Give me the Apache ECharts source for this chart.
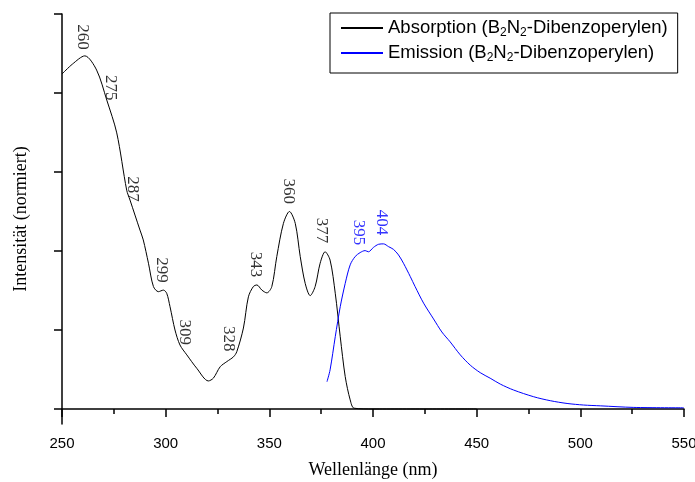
<!DOCTYPE html>
<html>
<head>
<meta charset="utf-8">
<script src="https://cdn.jsdelivr.net/npm/echarts@6/dist/echarts.min.js"></script>
<style>html,body{margin:0;padding:0;background:#fff;}#c{width:695px;height:482px;}</style>
</head>
<body>
<div id="c"></div>
<script>
// Absorption spectrum
const absX = [250, 255, 261, 266.7, 271.6, 276.4, 281.2, 282.8, 287.6, 289.2, 291.7, 294.1, 296.5, 298.9, 300.5, 302.1, 304.5, 306.9, 310.2, 315.0, 320.6, 323.0, 326.3, 329.5, 332.7, 334.3, 337.5, 339.9, 342.3, 344.0, 346.4, 348.8, 351.2, 353.6, 356.8, 359.7, 362.5, 364.9, 367.3, 369.7, 372.1, 374.5, 376.9, 379.3, 381.8, 384.2, 386.6, 389.0, 390.9, 400, 450];
const absY = [0.848, 0.873, 0.894, 0.858, 0.782, 0.699, 0.554, 0.529, 0.453, 0.428, 0.369, 0.310, 0.297, 0.301, 0.293, 0.259, 0.200, 0.162, 0.137, 0.103, 0.071, 0.078, 0.107, 0.120, 0.132, 0.145, 0.205, 0.284, 0.310, 0.314, 0.301, 0.294, 0.310, 0.386, 0.470, 0.500, 0.470, 0.386, 0.318, 0.287, 0.310, 0.369, 0.398, 0.377, 0.293, 0.183, 0.082, 0.023, 0.002, 0, 0];
// Emission spectrum
const emiX = [377.8, 379.3, 381.8, 384.2, 386.6, 389.0, 391.4, 393.8, 396.2, 397.8, 400.2, 402.7, 405.1, 407.5, 409.9, 412.3, 414.7, 418.0, 420.3, 424.4, 429.2, 433.2, 437.2, 442.1, 446.9, 451.7, 456.5, 461.4, 467.8, 477.5, 485.5, 493.6, 501.6, 509.6, 525.8, 549.9];
const emiY = [0.069, 0.099, 0.183, 0.259, 0.318, 0.365, 0.386, 0.396, 0.401, 0.398, 0.409, 0.417, 0.418, 0.411, 0.404, 0.390, 0.369, 0.335, 0.310, 0.268, 0.228, 0.195, 0.170, 0.137, 0.111, 0.092, 0.078, 0.063, 0.048, 0.031, 0.021, 0.014, 0.010, 0.008, 0.004, 0.003];
// Peak annotations: text, label x, label y
const absPeakText = ['260', '275', '287', '299', '309', '328', '343', '360', '377'];
const absPeakX = [260.1, 273.2, 284.0, 298.0, 309.1, 330.4, 343.1, 359.1, 375.2];
const absPeakY = [0.942, 0.813, 0.557, 0.352, 0.194, 0.178, 0.366, 0.551, 0.452];
const emiPeakText = ['395', '404'];
const emiPeakX = [392.9, 404.0];
const emiPeakY = [0.447, 0.472];
const xTicks = [250, 300, 350, 400, 450, 500, 550];
const yTicks = [0, 0.2, 0.4, 0.6, 0.8, 1.0];
const seriesNames = ['Absorption (B2N2-Dibenzoperylen)', 'Emission (B2N2-Dibenzoperylen)'];

const zip = (a, b) => a.map((v, i) => [v, b[i]]);
const zip3 = (a, b, t) => a.map((v, i) => [v, b[i], t[i]]);

const chart = echarts.init(document.getElementById('c'));
const serif = 'Liberation Serif, Times New Roman, serif';
const sans = 'Liberation Sans, Arial, sans-serif';
const labelSeries = (data, color) => ({
  type: 'scatter', data: data, symbolSize: 0, silent: true, z: 5,
  label: {
    show: true, position: 'inside', rotate: -90,
    formatter: p => p.data[2], color: color,
    fontFamily: serif, fontSize: 17
  }
});
chart.setOption({
  animation: false,
  backgroundColor: '#fff',
  grid: { left: 62, top: 14, right: 11, bottom: 58, containLabel: false, outerBoundsMode: 'none' },
  legend: {
    orient: 'vertical', left: 330, top: 13,
    padding: [4, 10, 9, 10], itemGap: 3,
    itemWidth: 42, itemHeight: 14,
    borderColor: '#000', borderWidth: 1, borderRadius: 0,
    itemStyle: { opacity: 0 },
    data: seriesNames,
    formatter: n => n.replace(/([BN])2/g, '$1{s|2}'),
    textStyle: {
      fontFamily: sans, fontSize: 18.5, color: '#000', lineHeight: 22,
      rich: { s: { fontSize: 12, fontFamily: sans, color: '#000', verticalAlign: 'bottom', lineHeight: 12 } }
    }
  },
  xAxis: {
    type: 'value', min: 250, max: 550, interval: 50,
    axisLine: { lineStyle: { color: '#000', width: 1.5 } },
    axisTick: { show: true, length: 8, lineStyle: { color: '#000', width: 1.5 } },
    minorTick: { show: true, splitNumber: 2, length: 5, lineStyle: { color: '#000', width: 1.5 } },
    splitLine: { show: false },
    axisLabel: {
      customValues: xTicks,
      color: '#000', fontFamily: sans, fontSize: 15, margin: 12
    },
    name: 'Wellenlänge (nm)', nameLocation: 'middle', nameGap: 37,
    nameTextStyle: { fontFamily: serif, fontSize: 18, color: '#000' }
  },
  yAxis: {
    type: 'value', min: -0.038, max: 1.0,
    axisLine: { show: true, lineStyle: { color: '#000', width: 1.5 } },
    axisTick: { show: true, length: 8, customValues: yTicks, lineStyle: { color: '#000', width: 1.5 } },
    axisLabel: { show: false },
    splitLine: { show: false },
    name: 'Intensität (normiert)', nameLocation: 'middle', nameGap: 32,
    nameTextStyle: { fontFamily: serif, fontSize: 18, color: '#000' }
  },
  series: [
    {
      name: seriesNames[0], type: 'line', data: zip(absX, absY),
      symbol: 'none', smooth: 0.3, color: '#000',
      lineStyle: { color: '#000', width: 1 }
    },
    {
      name: seriesNames[1], type: 'line', data: zip(emiX, emiY),
      symbol: 'none', smooth: 0.3, color: '#0000ff',
      lineStyle: { color: '#0000ff', width: 1 }
    },
    labelSeries(zip3(absPeakX, absPeakY, absPeakText), '#000'),
    labelSeries(zip3(emiPeakX, emiPeakY, emiPeakText), '#0000ff')
  ]
});
</script>
</body>
</html>
